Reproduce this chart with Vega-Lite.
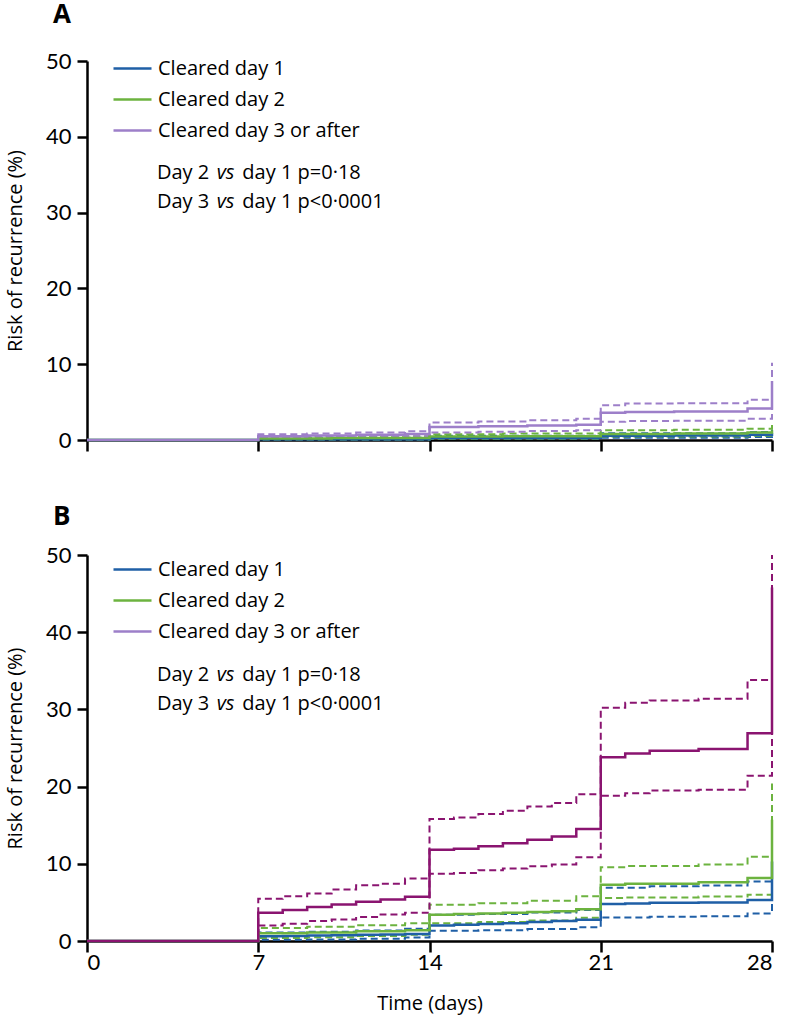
{
  "$schema": "https://vega.github.io/schema/vega-lite/v6.json",
  "background": "white",
  "padding": {"left": 5, "top": 2, "right": 8, "bottom": 2},
  "spacing": 51,
  "config": {
    "view": {"stroke": null},
    "font": "Open Sans",
    "axis": {
      "grid": false, "domainColor": "black", "domainWidth": 2.5, "tickColor": "black", "tickWidth": 2.5,
      "labelFont": "Lato", "labelFontSize": 22, "labelColor": "black",
      "titleFont": "Open Sans", "titleFontSize": 20, "titleFontWeight": "normal", "titleColor": "black"
    },
    "legend": {
      "orient": "none", "legendX": 25, "legendY": -13, "symbolType": "stroke",
      "symbolSize": 1444, "symbolStrokeWidth": 2.5, "labelFont": "Open Sans", "labelLimit": 400,
      "labelFontSize": 20, "labelColor": "black", "labelOffset": 5, "rowPadding": 0
    },
    "title": {"anchor": "start", "frame": "group", "font": "Open Sans", "fontSize": 26, "fontWeight": "bold", "color": "black", "dx": -34}
  },
  "datasets": {
    "A": [
      {"g":"Cleared day 1","k":"est","d":0,"r":0},{"g":"Cleared day 1","k":"est","d":7,"r":0.1},{"g":"Cleared day 1","k":"est","d":14,"r":0.3},{"g":"Cleared day 1","k":"est","d":21,"r":0.55},{"g":"Cleared day 1","k":"est","d":24,"r":0.6},{"g":"Cleared day 1","k":"est","d":27,"r":0.7},{"g":"Cleared day 1","k":"est","d":28,"r":0.9},
      {"g":"Cleared day 1","k":"lo","d":0,"r":0},{"g":"Cleared day 1","k":"lo","d":7,"r":0.02},{"g":"Cleared day 1","k":"lo","d":14,"r":0.12},{"g":"Cleared day 1","k":"lo","d":21,"r":0.3},{"g":"Cleared day 1","k":"lo","d":27,"r":0.4},{"g":"Cleared day 1","k":"lo","d":28,"r":0.5},
      {"g":"Cleared day 1","k":"hi","d":0,"r":0},{"g":"Cleared day 1","k":"hi","d":7,"r":0.3},{"g":"Cleared day 1","k":"hi","d":14,"r":0.55},{"g":"Cleared day 1","k":"hi","d":21,"r":0.9},{"g":"Cleared day 1","k":"hi","d":27,"r":1.05},{"g":"Cleared day 1","k":"hi","d":28,"r":1.4},
      {"g":"Cleared day 2","k":"est","d":0,"r":0},{"g":"Cleared day 2","k":"est","d":7,"r":0.2},{"g":"Cleared day 2","k":"est","d":10,"r":0.25},{"g":"Cleared day 2","k":"est","d":14,"r":0.45},{"g":"Cleared day 2","k":"est","d":17,"r":0.5},{"g":"Cleared day 2","k":"est","d":21,"r":0.8},{"g":"Cleared day 2","k":"est","d":24,"r":0.85},{"g":"Cleared day 2","k":"est","d":27,"r":1.0},{"g":"Cleared day 2","k":"est","d":28,"r":1.3},
      {"g":"Cleared day 2","k":"lo","d":0,"r":0},{"g":"Cleared day 2","k":"lo","d":7,"r":0.05},{"g":"Cleared day 2","k":"lo","d":14,"r":0.2},{"g":"Cleared day 2","k":"lo","d":21,"r":0.45},{"g":"Cleared day 2","k":"lo","d":27,"r":0.55},{"g":"Cleared day 2","k":"lo","d":28,"r":0.7},
      {"g":"Cleared day 2","k":"hi","d":0,"r":0},{"g":"Cleared day 2","k":"hi","d":7,"r":0.45},{"g":"Cleared day 2","k":"hi","d":10,"r":0.5},{"g":"Cleared day 2","k":"hi","d":14,"r":0.75},{"g":"Cleared day 2","k":"hi","d":17,"r":0.85},{"g":"Cleared day 2","k":"hi","d":21,"r":1.3},{"g":"Cleared day 2","k":"hi","d":24,"r":1.35},{"g":"Cleared day 2","k":"hi","d":27,"r":1.5},{"g":"Cleared day 2","k":"hi","d":28,"r":2.1},
      {"g":"Cleared day 3 or after","k":"est","d":0,"r":0},{"g":"Cleared day 3 or after","k":"est","d":7,"r":0.5},{"g":"Cleared day 3 or after","k":"est","d":9,"r":0.6},{"g":"Cleared day 3 or after","k":"est","d":11,"r":0.7},{"g":"Cleared day 3 or after","k":"est","d":13,"r":0.8},{"g":"Cleared day 3 or after","k":"est","d":14,"r":1.7},{"g":"Cleared day 3 or after","k":"est","d":16,"r":1.8},{"g":"Cleared day 3 or after","k":"est","d":18,"r":1.9},{"g":"Cleared day 3 or after","k":"est","d":20,"r":2.0},{"g":"Cleared day 3 or after","k":"est","d":21,"r":3.6},{"g":"Cleared day 3 or after","k":"est","d":22,"r":3.7},{"g":"Cleared day 3 or after","k":"est","d":24,"r":3.75},{"g":"Cleared day 3 or after","k":"est","d":27,"r":4.15},{"g":"Cleared day 3 or after","k":"est","d":28,"r":7.8},
      {"g":"Cleared day 3 or after","k":"hi","d":0,"r":0},{"g":"Cleared day 3 or after","k":"hi","d":7,"r":0.75},{"g":"Cleared day 3 or after","k":"hi","d":9,"r":0.85},{"g":"Cleared day 3 or after","k":"hi","d":11,"r":1.0},{"g":"Cleared day 3 or after","k":"hi","d":13,"r":1.15},{"g":"Cleared day 3 or after","k":"hi","d":14,"r":2.3},{"g":"Cleared day 3 or after","k":"hi","d":16,"r":2.45},{"g":"Cleared day 3 or after","k":"hi","d":18,"r":2.6},{"g":"Cleared day 3 or after","k":"hi","d":20,"r":2.8},{"g":"Cleared day 3 or after","k":"hi","d":21,"r":4.6},{"g":"Cleared day 3 or after","k":"hi","d":22,"r":4.8},{"g":"Cleared day 3 or after","k":"hi","d":24,"r":4.85},{"g":"Cleared day 3 or after","k":"hi","d":27,"r":5.3},{"g":"Cleared day 3 or after","k":"hi","d":28,"r":10.2},
      {"g":"Cleared day 3 or after","k":"lo","d":0,"r":0},{"g":"Cleared day 3 or after","k":"lo","d":7,"r":0.3},{"g":"Cleared day 3 or after","k":"lo","d":9,"r":0.35},{"g":"Cleared day 3 or after","k":"lo","d":11,"r":0.4},{"g":"Cleared day 3 or after","k":"lo","d":13,"r":0.5},{"g":"Cleared day 3 or after","k":"lo","d":14,"r":1.0},{"g":"Cleared day 3 or after","k":"lo","d":16,"r":1.1},{"g":"Cleared day 3 or after","k":"lo","d":18,"r":1.2},{"g":"Cleared day 3 or after","k":"lo","d":20,"r":1.3},{"g":"Cleared day 3 or after","k":"lo","d":21,"r":2.4},{"g":"Cleared day 3 or after","k":"lo","d":22,"r":2.5},{"g":"Cleared day 3 or after","k":"lo","d":24,"r":2.55},{"g":"Cleared day 3 or after","k":"lo","d":27,"r":2.8},{"g":"Cleared day 3 or after","k":"lo","d":28,"r":5.6}
    ],
    "B": [
      {"g":"Cleared day 1","k":"est","d":0,"r":0},{"g":"Cleared day 1","k":"est","d":7,"r":0.6},{"g":"Cleared day 1","k":"est","d":8,"r":0.65},{"g":"Cleared day 1","k":"est","d":9,"r":0.7},{"g":"Cleared day 1","k":"est","d":10,"r":0.75},{"g":"Cleared day 1","k":"est","d":11,"r":0.8},{"g":"Cleared day 1","k":"est","d":12,"r":0.85},{"g":"Cleared day 1","k":"est","d":13,"r":0.9},{"g":"Cleared day 1","k":"est","d":14,"r":2.0},{"g":"Cleared day 1","k":"est","d":15,"r":2.1},{"g":"Cleared day 1","k":"est","d":16,"r":2.2},{"g":"Cleared day 1","k":"est","d":17,"r":2.3},{"g":"Cleared day 1","k":"est","d":18,"r":2.45},{"g":"Cleared day 1","k":"est","d":19,"r":2.6},{"g":"Cleared day 1","k":"est","d":20,"r":2.75},{"g":"Cleared day 1","k":"est","d":21,"r":4.8},{"g":"Cleared day 1","k":"est","d":22,"r":4.85},{"g":"Cleared day 1","k":"est","d":23,"r":4.95},{"g":"Cleared day 1","k":"est","d":25,"r":5.0},{"g":"Cleared day 1","k":"est","d":27,"r":5.3},{"g":"Cleared day 1","k":"est","d":28,"r":10.3},
      {"g":"Cleared day 1","k":"hi","d":0,"r":0},{"g":"Cleared day 1","k":"hi","d":7,"r":1.1},{"g":"Cleared day 1","k":"hi","d":9,"r":1.2},{"g":"Cleared day 1","k":"hi","d":11,"r":1.35},{"g":"Cleared day 1","k":"hi","d":13,"r":1.6},{"g":"Cleared day 1","k":"hi","d":14,"r":3.4},{"g":"Cleared day 1","k":"hi","d":16,"r":3.5},{"g":"Cleared day 1","k":"hi","d":18,"r":3.7},{"g":"Cleared day 1","k":"hi","d":20,"r":4.0},{"g":"Cleared day 1","k":"hi","d":21,"r":6.9},{"g":"Cleared day 1","k":"hi","d":23,"r":7.1},{"g":"Cleared day 1","k":"hi","d":25,"r":7.2},{"g":"Cleared day 1","k":"hi","d":27,"r":7.7},{"g":"Cleared day 1","k":"hi","d":28,"r":13.0},
      {"g":"Cleared day 1","k":"lo","d":0,"r":0},{"g":"Cleared day 1","k":"lo","d":7,"r":0.15},{"g":"Cleared day 1","k":"lo","d":9,"r":0.2},{"g":"Cleared day 1","k":"lo","d":11,"r":0.3},{"g":"Cleared day 1","k":"lo","d":13,"r":0.45},{"g":"Cleared day 1","k":"lo","d":14,"r":1.33},{"g":"Cleared day 1","k":"lo","d":16,"r":1.4},{"g":"Cleared day 1","k":"lo","d":18,"r":1.55},{"g":"Cleared day 1","k":"lo","d":20,"r":1.77},{"g":"Cleared day 1","k":"lo","d":21,"r":3.06},{"g":"Cleared day 1","k":"lo","d":23,"r":3.15},{"g":"Cleared day 1","k":"lo","d":25,"r":3.2},{"g":"Cleared day 1","k":"lo","d":27,"r":3.55},{"g":"Cleared day 1","k":"lo","d":28,"r":5.5},
      {"g":"Cleared day 2","k":"est","d":0,"r":0},{"g":"Cleared day 2","k":"est","d":7,"r":1.0},{"g":"Cleared day 2","k":"est","d":9,"r":1.1},{"g":"Cleared day 2","k":"est","d":11,"r":1.25},{"g":"Cleared day 2","k":"est","d":13,"r":1.4},{"g":"Cleared day 2","k":"est","d":14,"r":3.4},{"g":"Cleared day 2","k":"est","d":15,"r":3.5},{"g":"Cleared day 2","k":"est","d":16,"r":3.55},{"g":"Cleared day 2","k":"est","d":17,"r":3.65},{"g":"Cleared day 2","k":"est","d":18,"r":3.75},{"g":"Cleared day 2","k":"est","d":19,"r":3.85},{"g":"Cleared day 2","k":"est","d":20,"r":4.1},{"g":"Cleared day 2","k":"est","d":21,"r":7.28},{"g":"Cleared day 2","k":"est","d":22,"r":7.4},{"g":"Cleared day 2","k":"est","d":25,"r":7.6},{"g":"Cleared day 2","k":"est","d":27,"r":8.15},{"g":"Cleared day 2","k":"est","d":28,"r":15.7},
      {"g":"Cleared day 2","k":"hi","d":0,"r":0},{"g":"Cleared day 2","k":"hi","d":7,"r":1.7},{"g":"Cleared day 2","k":"hi","d":9,"r":1.85},{"g":"Cleared day 2","k":"hi","d":11,"r":2.05},{"g":"Cleared day 2","k":"hi","d":13,"r":2.3},{"g":"Cleared day 2","k":"hi","d":14,"r":4.7},{"g":"Cleared day 2","k":"hi","d":16,"r":4.9},{"g":"Cleared day 2","k":"hi","d":18,"r":5.2},{"g":"Cleared day 2","k":"hi","d":20,"r":5.8},{"g":"Cleared day 2","k":"hi","d":21,"r":9.56},{"g":"Cleared day 2","k":"hi","d":22,"r":9.7},{"g":"Cleared day 2","k":"hi","d":25,"r":9.9},{"g":"Cleared day 2","k":"hi","d":27,"r":10.9},{"g":"Cleared day 2","k":"hi","d":28,"r":20.4},
      {"g":"Cleared day 2","k":"lo","d":0,"r":0},{"g":"Cleared day 2","k":"lo","d":7,"r":0.4},{"g":"Cleared day 2","k":"lo","d":9,"r":0.5},{"g":"Cleared day 2","k":"lo","d":11,"r":0.65},{"g":"Cleared day 2","k":"lo","d":13,"r":0.8},{"g":"Cleared day 2","k":"lo","d":14,"r":2.3},{"g":"Cleared day 2","k":"lo","d":16,"r":2.45},{"g":"Cleared day 2","k":"lo","d":18,"r":2.65},{"g":"Cleared day 2","k":"lo","d":20,"r":3.0},{"g":"Cleared day 2","k":"lo","d":21,"r":5.56},{"g":"Cleared day 2","k":"lo","d":22,"r":5.65},{"g":"Cleared day 2","k":"lo","d":25,"r":5.75},{"g":"Cleared day 2","k":"lo","d":27,"r":6.0},{"g":"Cleared day 2","k":"lo","d":28,"r":11.0},
      {"g":"Cleared day 3 or after","k":"est","d":0,"r":0},{"g":"Cleared day 3 or after","k":"est","d":7,"r":3.66},{"g":"Cleared day 3 or after","k":"est","d":8,"r":4.0},{"g":"Cleared day 3 or after","k":"est","d":9,"r":4.4},{"g":"Cleared day 3 or after","k":"est","d":10,"r":4.73},{"g":"Cleared day 3 or after","k":"est","d":11,"r":5.08},{"g":"Cleared day 3 or after","k":"est","d":12,"r":5.38},{"g":"Cleared day 3 or after","k":"est","d":13,"r":5.72},{"g":"Cleared day 3 or after","k":"est","d":14,"r":11.83},{"g":"Cleared day 3 or after","k":"est","d":15,"r":11.96},{"g":"Cleared day 3 or after","k":"est","d":16,"r":12.26},{"g":"Cleared day 3 or after","k":"est","d":17,"r":12.65},{"g":"Cleared day 3 or after","k":"est","d":18,"r":13.12},{"g":"Cleared day 3 or after","k":"est","d":19,"r":13.55},{"g":"Cleared day 3 or after","k":"est","d":20,"r":14.5},{"g":"Cleared day 3 or after","k":"est","d":21,"r":23.8},{"g":"Cleared day 3 or after","k":"est","d":22,"r":24.3},{"g":"Cleared day 3 or after","k":"est","d":23,"r":24.66},{"g":"Cleared day 3 or after","k":"est","d":25,"r":24.87},{"g":"Cleared day 3 or after","k":"est","d":27,"r":26.9},{"g":"Cleared day 3 or after","k":"est","d":28,"r":45.8},
      {"g":"Cleared day 3 or after","k":"hi","d":0,"r":0},{"g":"Cleared day 3 or after","k":"hi","d":7,"r":5.46},{"g":"Cleared day 3 or after","k":"hi","d":8,"r":5.8},{"g":"Cleared day 3 or after","k":"hi","d":9,"r":6.15},{"g":"Cleared day 3 or after","k":"hi","d":10,"r":6.67},{"g":"Cleared day 3 or after","k":"hi","d":11,"r":7.23},{"g":"Cleared day 3 or after","k":"hi","d":12,"r":7.4},{"g":"Cleared day 3 or after","k":"hi","d":13,"r":8.09},{"g":"Cleared day 3 or after","k":"hi","d":14,"r":15.8},{"g":"Cleared day 3 or after","k":"hi","d":15,"r":16.0},{"g":"Cleared day 3 or after","k":"hi","d":16,"r":16.44},{"g":"Cleared day 3 or after","k":"hi","d":17,"r":16.87},{"g":"Cleared day 3 or after","k":"hi","d":18,"r":17.43},{"g":"Cleared day 3 or after","k":"hi","d":19,"r":17.86},{"g":"Cleared day 3 or after","k":"hi","d":20,"r":19.0},{"g":"Cleared day 3 or after","k":"hi","d":21,"r":30.2},{"g":"Cleared day 3 or after","k":"hi","d":22,"r":30.85},{"g":"Cleared day 3 or after","k":"hi","d":23,"r":31.15},{"g":"Cleared day 3 or after","k":"hi","d":25,"r":31.37},{"g":"Cleared day 3 or after","k":"hi","d":27,"r":33.8},{"g":"Cleared day 3 or after","k":"hi","d":28,"r":50},
      {"g":"Cleared day 3 or after","k":"lo","d":0,"r":0},{"g":"Cleared day 3 or after","k":"lo","d":7,"r":2.02},{"g":"Cleared day 3 or after","k":"lo","d":8,"r":2.24},{"g":"Cleared day 3 or after","k":"lo","d":9,"r":2.58},{"g":"Cleared day 3 or after","k":"lo","d":10,"r":2.8},{"g":"Cleared day 3 or after","k":"lo","d":11,"r":3.1},{"g":"Cleared day 3 or after","k":"lo","d":12,"r":3.44},{"g":"Cleared day 3 or after","k":"lo","d":13,"r":3.66},{"g":"Cleared day 3 or after","k":"lo","d":14,"r":8.7},{"g":"Cleared day 3 or after","k":"lo","d":15,"r":8.82},{"g":"Cleared day 3 or after","k":"lo","d":16,"r":9.17},{"g":"Cleared day 3 or after","k":"lo","d":17,"r":9.38},{"g":"Cleared day 3 or after","k":"lo","d":18,"r":9.68},{"g":"Cleared day 3 or after","k":"lo","d":19,"r":9.9},{"g":"Cleared day 3 or after","k":"lo","d":20,"r":10.84},{"g":"Cleared day 3 or after","k":"lo","d":21,"r":18.8},{"g":"Cleared day 3 or after","k":"lo","d":22,"r":19.15},{"g":"Cleared day 3 or after","k":"lo","d":23,"r":19.5},{"g":"Cleared day 3 or after","k":"lo","d":25,"r":19.58},{"g":"Cleared day 3 or after","k":"lo","d":27,"r":21.4},{"g":"Cleared day 3 or after","k":"lo","d":28,"r":40}
    ],
    "keys": [
      {"grp":"Cleared day 1","d":0,"r":0},{"grp":"Cleared day 2","d":0,"r":0},{"grp":"Cleared day 3 or after","d":0,"r":0}
    ],
    "tA": [
      {"d":2.86,"r":35.2,"t":"Day 2","s":"n"},{"d":5.3,"r":35.2,"t":"vs","s":"i"},{"d":6.35,"r":35.2,"t":"day 1 p=0·18","s":"n"},
      {"d":2.86,"r":31.4,"t":"Day 3","s":"n"},{"d":5.3,"r":31.4,"t":"vs","s":"i"},{"d":6.35,"r":31.4,"t":"day 1 p<0·0001","s":"n"}
    ],
    "tB": [
      {"d":2.86,"r":34.5,"t":"Day 2","s":"n"},{"d":5.3,"r":34.5,"t":"vs","s":"i"},{"d":6.35,"r":34.5,"t":"day 1 p=0·18","s":"n"},
      {"d":2.86,"r":30.7,"t":"Day 3","s":"n"},{"d":5.3,"r":30.7,"t":"vs","s":"i"},{"d":6.35,"r":30.7,"t":"day 1 p<0·0001","s":"n"}
    ]
  },
  "resolve": {"scale": {"color": "independent", "stroke": "independent"}, "legend": {"color": "independent"}},
  "vconcat": [
    {
      "title": {"text": "A", "offset": 20},
      "width": 685,
      "height": 379,
      "layer": [
        {
          "data": {"name": "A"},
          "transform": [{"filter": "datum.k != 'est'"}],
          "mark": {"type": "line", "interpolate": "step-after", "strokeWidth": 2, "strokeDash": [7, 4]},
          "encoding": {
            "x": {"field": "d", "type": "quantitative", "scale": {"domain": [0, 28], "nice": false}, "axis": {"values": [0, 7, 14, 21, 28], "labels": false, "title": null, "tickSize": 11}},
            "y": {"field": "r", "type": "quantitative", "scale": {"domain": [0, 50], "nice": false}, "axis": {"values": [0, 10, 20, 30, 40, 50], "tickSize": 10, "labelPadding": 6, "title": "Risk of recurrence (%)", "titlePadding": 20}},
            "stroke": {"field": "g", "type": "nominal", "scale": {"domain": ["Cleared day 3 or after", "Cleared day 2", "Cleared day 1"], "range": ["#9d7fc9", "#6cb33f", "#1f5fa6"]}, "legend": null},
            "detail": {"field": "k"}
          }
        },
        {
          "data": {"name": "A"},
          "transform": [{"filter": "datum.k == 'est'"}],
          "mark": {"type": "line", "interpolate": "step-after", "strokeWidth": 2.5},
          "encoding": {
            "x": {"field": "d", "type": "quantitative"},
            "y": {"field": "r", "type": "quantitative"},
            "stroke": {"field": "g", "type": "nominal", "legend": null}
          }
        },
        {
          "data": {"name": "keys"},
          "mark": {"type": "line", "strokeWidth": 2.5},
          "encoding": {
            "x": {"field": "d", "type": "quantitative"},
            "y": {"field": "r", "type": "quantitative"},
            "color": {"field": "grp", "type": "nominal", "title": null, "scale": {"domain": ["Cleared day 1", "Cleared day 2", "Cleared day 3 or after"], "range": ["#1f5fa6", "#6cb33f", "#9d7fc9"]}}
          }
        },
        {
          "data": {"name": "tA"},
          "transform": [{"filter": "datum.s == 'n'"}],
          "mark": {"type": "text", "align": "left", "baseline": "middle", "font": "Open Sans", "fontSize": 20, "color": "black"},
          "encoding": {"x": {"field": "d", "type": "quantitative"}, "y": {"field": "r", "type": "quantitative"}, "text": {"field": "t"}}
        },
        {
          "data": {"name": "tA"},
          "transform": [{"filter": "datum.s == 'i'"}],
          "mark": {"type": "text", "align": "left", "baseline": "middle", "font": "Open Sans", "fontSize": 20, "fontStyle": "italic", "color": "black"},
          "encoding": {"x": {"field": "d", "type": "quantitative"}, "y": {"field": "r", "type": "quantitative"}, "text": {"field": "t"}}
        }
      ]
    },
    {
      "title": {"text": "B", "offset": 14},
      "width": 685,
      "height": 386,
      "layer": [
        {
          "data": {"name": "B"},
          "transform": [{"filter": "datum.k != 'est'"}],
          "mark": {"type": "line", "interpolate": "step-after", "strokeWidth": 2, "strokeDash": [7, 4]},
          "encoding": {
            "x": {"field": "d", "type": "quantitative", "scale": {"domain": [0, 28], "nice": false}, "axis": {"values": [0, 7, 14, 21, 28], "title": "Time (days)", "tickSize": 11, "labelPadding": 0, "titlePadding": 20}},
            "y": {"field": "r", "type": "quantitative", "scale": {"domain": [0, 50], "nice": false}, "axis": {"values": [0, 10, 20, 30, 40, 50], "tickSize": 10, "labelPadding": 6, "title": "Risk of recurrence (%)", "titlePadding": 20}},
            "stroke": {"field": "g", "type": "nominal", "scale": {"domain": ["Cleared day 3 or after", "Cleared day 2", "Cleared day 1"], "range": ["#8a1470", "#6cb33f", "#1f5fa6"]}, "legend": null},
            "detail": {"field": "k"}
          }
        },
        {
          "data": {"name": "B"},
          "transform": [{"filter": "datum.k == 'est'"}],
          "mark": {"type": "line", "interpolate": "step-after", "strokeWidth": 2.5},
          "encoding": {
            "x": {"field": "d", "type": "quantitative"},
            "y": {"field": "r", "type": "quantitative"},
            "stroke": {"field": "g", "type": "nominal", "legend": null}
          }
        },
        {
          "data": {"name": "keys"},
          "mark": {"type": "line", "strokeWidth": 2.5},
          "encoding": {
            "x": {"field": "d", "type": "quantitative"},
            "y": {"field": "r", "type": "quantitative"},
            "color": {"field": "grp", "type": "nominal", "title": null, "scale": {"domain": ["Cleared day 1", "Cleared day 2", "Cleared day 3 or after"], "range": ["#1f5fa6", "#6cb33f", "#9d7fc9"]}, "legend": {"legendY": -6}}
          }
        },
        {
          "data": {"name": "tB"},
          "transform": [{"filter": "datum.s == 'n'"}],
          "mark": {"type": "text", "align": "left", "baseline": "middle", "font": "Open Sans", "fontSize": 20, "color": "black"},
          "encoding": {"x": {"field": "d", "type": "quantitative"}, "y": {"field": "r", "type": "quantitative"}, "text": {"field": "t"}}
        },
        {
          "data": {"name": "tB"},
          "transform": [{"filter": "datum.s == 'i'"}],
          "mark": {"type": "text", "align": "left", "baseline": "middle", "font": "Open Sans", "fontSize": 20, "fontStyle": "italic", "color": "black"},
          "encoding": {"x": {"field": "d", "type": "quantitative"}, "y": {"field": "r", "type": "quantitative"}, "text": {"field": "t"}}
        }
      ]
    }
  ]
}
